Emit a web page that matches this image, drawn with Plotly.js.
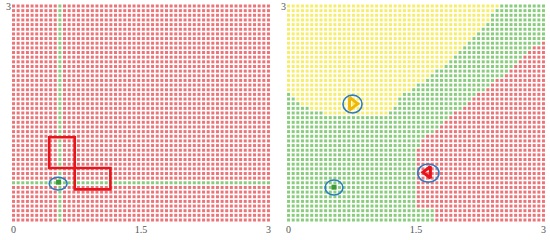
<!DOCTYPE html>
<html><head><meta charset="utf-8">
<script src="https://cdn.plot.ly/plotly-3.0.1.min.js"></script>
<style>html,body{margin:0;padding:0;background:#fff}#chart{width:550px;height:240px}</style>
</head><body><div id="chart"></div>
<script>
// ---- data ----
const gridMin = 0, gridMax = 3;
const nCols = 56, nRows = 47;            // lattice of sample points
const tickVals = [0, 1.5, 3];
const tickText = ['0', '1.5', '3'];
const yTickVals = [3];
const yTickText = ['3'];

// left panel: green column / row through the sample point
const leftGreenX = 0.55;
const leftGreenY = 0.52;
const leftPointX = [0.53];
const leftPointY = [0.53];
// left panel boxes [x0, x1, y0, y1]
const box1 = [0.42, 0.72, 0.73, 1.16];
const box2 = [0.72, 1.14, 0.43, 0.73];
// left ellipse [x0, x1, y0, y1]
const leftRing = [0.42, 0.63, 0.42, 0.60];

// right panel regions (polygons)
const yellowPolyX = [-0.3, -0.02, 0.135, 0.37, 0.61, 1.08, 1.22, 1.31, 1.66, 1.98, 2.23, 2.50, 2.58, -0.3];
const yellowPolyY = [1.82, 1.82, 1.64, 1.51, 1.46, 1.46, 1.54, 1.73, 2.0, 2.34, 2.62, 3.03, 3.3, 3.3];
const redPolyX = [3.3, 3.02, 2.49, 1.96, 1.61, 1.49, 1.49, 1.70, 1.70, 3.3];
const redPolyY = [2.62, 2.55, 2.0, 1.51, 1.15, 0.98, 0.17, 0.14, -0.3, -0.3];
// right panel highlighted samples
const yellowPtX = [0.75], yellowPtY = [1.63];
const greenPtX = [0.535], greenPtY = [0.46];
const redPtX = [1.64], redPtY = [0.67];
// rings [x0, x1, y0, y1]
const ringYellow = [0.64, 0.865, 1.50, 1.75];
const ringGreen = [0.43, 0.64, 0.35, 0.56];
const ringRed = [1.52, 1.77, 0.53, 0.785];

const RED = '#e23e44', GREEN = '#5cb848', YELLOW = '#f2e630';

// ---- build ----
const xs = [], ys = [];
for (let i = 0; i < nCols; i++) xs.push(gridMin + i * (gridMax - gridMin) / (nCols - 1));
for (let j = 0; j < nRows; j++) ys.push(gridMin + j * (gridMax - gridMin) / (nRows - 1));
function nearestIdx(arr, v) { let b = 0; arr.forEach((a, k) => { if (Math.abs(a - v) < Math.abs(arr[b] - v)) b = k; }); return b; }
const gCol = nearestIdx(xs, leftGreenX), gRow = nearestIdx(ys, leftGreenY);
function inPoly(px, py, X, Y) {
  let inside = false;
  for (let i = 0, j = X.length - 1; i < X.length; j = i++) {
    if (((Y[i] > py) !== (Y[j] > py)) && (px < (X[j] - X[i]) * (py - Y[i]) / (Y[j] - Y[i]) + X[i])) inside = !inside;
  }
  return inside;
}
const L = { red: { x: [], y: [] }, green: { x: [], y: [] } };
const R = { red: { x: [], y: [] }, green: { x: [], y: [] }, yellow: { x: [], y: [] } };
for (let i = 0; i < nCols; i++) for (let j = 0; j < nRows; j++) {
  const x = xs[i], y = ys[j];
  const lc = (i === gCol || j === gRow) ? 'green' : 'red';
  L[lc].x.push(x); L[lc].y.push(y);
  let rc = 'green';
  if (inPoly(x, y, yellowPolyX, yellowPolyY)) rc = 'yellow';
  else if (inPoly(x, y, redPolyX, redPolyY)) rc = 'red';
  R[rc].x.push(x); R[rc].y.push(y);
}
function grid(d, c, xa, ya) {
  return { type: 'scatter', mode: 'markers', x: d.x, y: d.y, xaxis: xa, yaxis: ya,
    marker: { symbol: 'square', size: 3, color: c, opacity: 0.72, line: { width: 0 } }, hoverinfo: 'skip', showlegend: false };
}
const traces = [
  grid(L.red, RED, 'x', 'y'), grid(L.green, GREEN, 'x', 'y'),
  grid(R.yellow, YELLOW, 'x2', 'y2'), grid(R.green, GREEN, 'x2', 'y2'), grid(R.red, RED, 'x2', 'y2'),
  { type: 'scatter', mode: 'markers', x: leftPointX, y: leftPointY, xaxis: 'x', yaxis: 'y',
    marker: { symbol: 'square', size: 5, color: '#3a9a35' }, showlegend: false },
  { type: 'scatter', mode: 'markers', x: greenPtX, y: greenPtY, xaxis: 'x2', yaxis: 'y2',
    marker: { symbol: 'square', size: 5, color: '#3a9a35' }, showlegend: false },
  { type: 'scatter', mode: 'markers', x: yellowPtX, y: yellowPtY, xaxis: 'x2', yaxis: 'y2',
    marker: { symbol: 'triangle-right-open', size: 11, color: '#f2b705', line: { width: 3, color: '#f2b705' } }, showlegend: false },
  { type: 'scatter', mode: 'markers', x: redPtX, y: redPtY, xaxis: 'x2', yaxis: 'y2',
    marker: { symbol: 'triangle-left-open', size: 10, color: '#e8141c', line: { width: 3, color: '#e8141c' } }, showlegend: false }
];
function rect(b, xr, yr) { return { type: 'rect', xref: xr, yref: yr, x0: b[0], x1: b[1], y0: b[2], y1: b[3], line: { color: '#e8141c', width: 2.6 } }; }
function ring(b, xr, yr) { return { type: 'circle', xref: xr, yref: yr, x0: b[0], x1: b[1], y0: b[2], y1: b[3], line: { color: '#2b7cc2', width: 1.6 } }; }
const tf = { family: 'Liberation Serif', size: 10, color: '#555' };
const ax = (dom, anchor) => ({ domain: dom, anchor: anchor, range: [-0.018, 3.018], tickvals: tickVals, ticktext: tickText,
  showgrid: false, zeroline: false, showline: false, ticks: '', tickfont: tf, fixedrange: true });
const ay = (anchor) => ({ domain: [0, 1], anchor: anchor, range: [-0.028, 3.028], tickvals: yTickVals, ticktext: yTickText,
  showgrid: false, zeroline: false, showline: false, ticks: '', tickfont: tf, fixedrange: true });
const layout = {
  width: 550, height: 240, margin: { l: 12, r: 5, t: 4, b: 18 },
  paper_bgcolor: '#fff', plot_bgcolor: '#fff', showlegend: false,
  xaxis: ax([0, 0.484], 'y'), yaxis: ay('x'),
  xaxis2: ax([0.516, 1], 'y2'), yaxis2: ay('x2'),
  shapes: [rect(box1, 'x', 'y'), rect(box2, 'x', 'y'), ring(leftRing, 'x', 'y'),
    ring(ringYellow, 'x2', 'y2'), ring(ringGreen, 'x2', 'y2'), ring(ringRed, 'x2', 'y2')]
};
Plotly.newPlot('chart', traces, layout, { staticPlot: true, displayModeBar: false });
</script></body></html>
